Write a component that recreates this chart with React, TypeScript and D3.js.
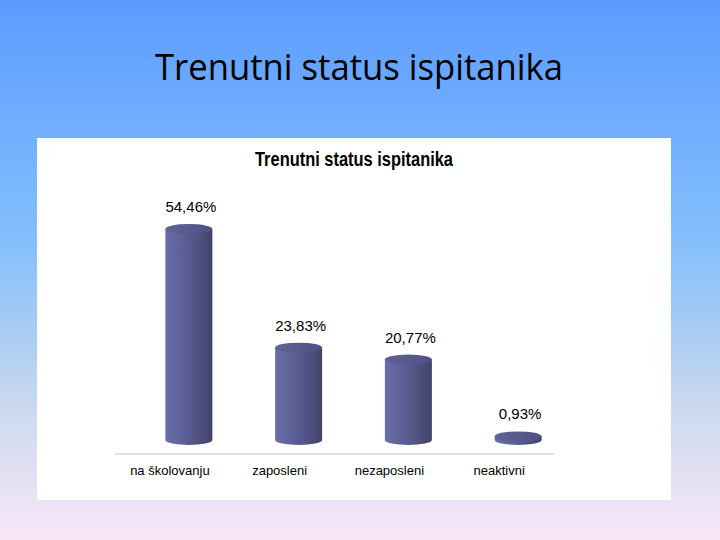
import React from "react";
import * as d3 from "d3";

const categories = ["na školovanju", "zaposleni", "nezaposleni", "neaktivni"];
const values = [54.46, 23.83, 20.77, 0.93];
const valueLabels = ["54,46%", "23,83%", "20,77%", "0,93%"];
const slideTitle = "Trenutni status ispitanika";
const chartTitle = "Trenutni status ispitanika";

export default function App() {
  const W = 720;
  const H = 540;
  const x = d3.scaleBand<string>().domain(categories).range([115, 554]).padding(0);
  const y = d3.scaleLinear().domain([0, 60]).range([440, 207.5]);
  const depth = 19;
  const rx = 23.5;
  const ry = 5;
  const bw = x.bandwidth();

  return (
    <svg
      width={W}
      height={H}
      viewBox={`0 0 ${W} ${H}`}
      style={{ position: "absolute", left: 0, top: 0, display: "block" }}
    >
      <defs>
        <linearGradient id="bg" x1="0" y1="0" x2="0" y2="1">
          <stop offset="0" stopColor="#5c9cff" />
          <stop offset="0.43" stopColor="#82befc" />
          <stop offset="0.62" stopColor="#a9cdf2" />
          <stop offset="0.78" stopColor="#d0dbef" />
          <stop offset="1" stopColor="#f8e6f8" />
        </linearGradient>
        <linearGradient id="cyl" x1="0" y1="0" x2="1" y2="0">
          <stop offset="0" stopColor="#6a6ea8" />
          <stop offset="0.35" stopColor="#5e6198" />
          <stop offset="1" stopColor="#43446a" />
        </linearGradient>
        <linearGradient id="cyltop" x1="0" y1="0" x2="1" y2="0">
          <stop offset="0" stopColor="#5f6296" />
          <stop offset="1" stopColor="#4f5185" />
        </linearGradient>
      </defs>
      <rect x={0} y={0} width={W} height={H} fill="url(#bg)" />
      <text
        x={359}
        y={80}
        textAnchor="middle"
        fontFamily="'Open Sans', sans-serif"
        fontSize={37}
        fill="#000"
        textLength={408}
        lengthAdjust="spacingAndGlyphs"
      >
        {slideTitle}
      </text>
      <rect x={37} y={138} width={634} height={362} fill="#ffffff" />
      <text
        x={354}
        y={166}
        textAnchor="middle"
        fontFamily="'Liberation Sans', Arial, sans-serif"
        fontWeight="bold"
        fontSize={20}
        fill="#000"
        textLength={198}
        lengthAdjust="spacingAndGlyphs"
      >
        {chartTitle}
      </text>
      <line x1={115} x2={554} y1={454} y2={454} stroke="#c4c4c4" strokeWidth={1.2} />
      {categories.map((c, i) => {
        const cx = (x(c) as number) + bw / 2 + depth;
        const yTop = y(values[i]);
        const yBot = y(0);
        const body = `M${cx - rx},${yTop} L${cx - rx},${yBot} A${rx},${ry} 0 0 0 ${cx + rx},${yBot} L${cx + rx},${yTop} Z`;
        return (
          <g key={c}>
            <path d={body} fill="url(#cyl)" />
            <ellipse cx={cx} cy={yTop} rx={rx} ry={ry} fill="url(#cyltop)" />
            <text
              x={cx + 2}
              y={yTop - 17}
              textAnchor="middle"
              fontFamily="'Liberation Sans', Arial, sans-serif"
              fontSize={15}
              fill="#000"
            >
              {valueLabels[i]}
            </text>
          </g>
        );
      })}
      {categories.map((c) => (
        <text
          key={"l" + c}
          x={(x(c) as number) + bw / 2}
          y={475}
          textAnchor="middle"
          fontFamily="'Liberation Sans', Arial, sans-serif"
          fontSize={13}
          fill="#000"
        >
          {c}
        </text>
      ))}
    </svg>
  );
}
